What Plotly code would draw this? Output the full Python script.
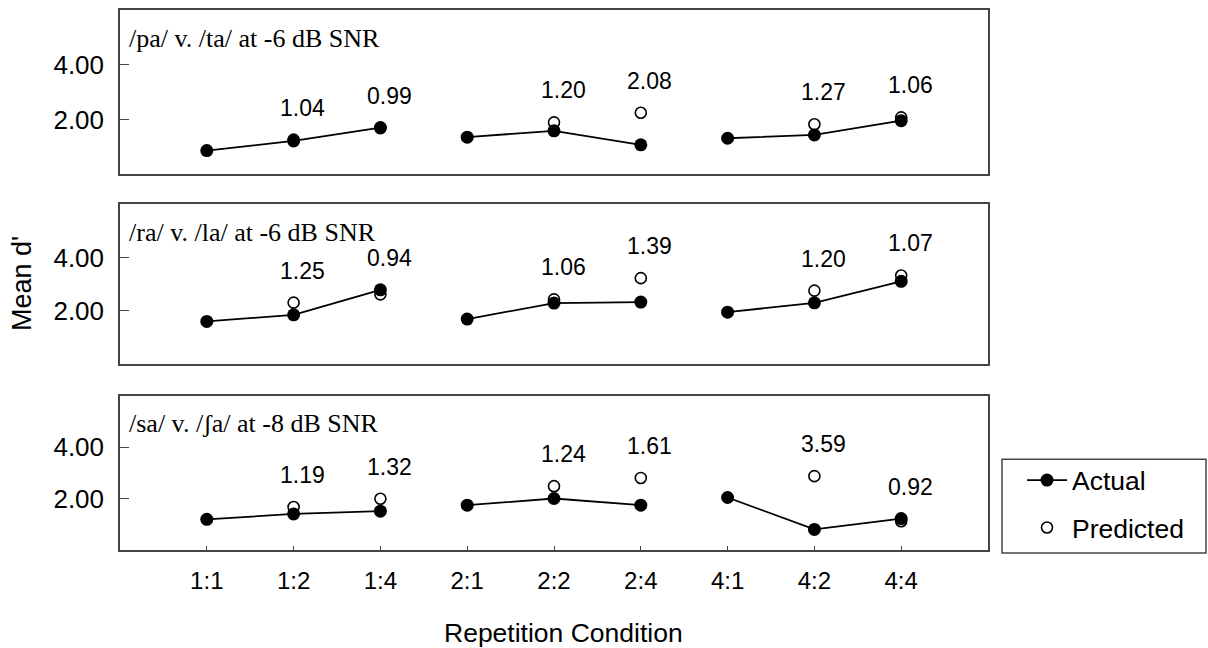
import plotly.graph_objects as go

# Repetition conditions on the shared x axis
conditions = ["1:1", "1:2", "1:4", "2:1", "2:2", "2:4", "4:1", "4:2", "4:4"]

panel_titles = [
    "/pa/ v. /ta/ at -6 dB SNR",
    "/ra/ v. /la/ at -6 dB SNR",
    "/sa/ v. /ʃa/ at -8 dB SNR",
]

# Mean d' per condition (actual) and the predicted values (none for x:1)
actual_pa_ta = [0.87, 1.22, 1.71, 1.36, 1.59, 1.08, 1.32, 1.44, 1.96]
predicted_pa_ta = [None, 1.27, 1.69, None, 1.90, 2.25, None, 1.83, 2.08]
ratio_pa_ta = [None, "1.04", "0.99", None, "1.20", "2.08", None, "1.27", "1.06"]

actual_ra_la = [1.59, 1.84, 2.78, 1.68, 2.28, 2.32, 1.94, 2.29, 3.10]
predicted_ra_la = [None, 2.30, 2.61, None, 2.42, 3.22, None, 2.75, 3.32]
ratio_ra_la = [None, "1.25", "0.94", None, "1.06", "1.39", None, "1.20", "1.07"]

actual_sa_sha = [1.19, 1.40, 1.51, 1.74, 2.00, 1.74, 2.04, 0.80, 1.22]
predicted_sa_sha = [None, 1.67, 1.99, None, 2.48, 2.80, None, 2.87, 1.12]
ratio_sa_sha = [None, "1.19", "1.32", None, "1.24", "1.61", None, "3.59", "0.92"]

y_ticks = [2, 4]

panels = [
    (actual_pa_ta, predicted_pa_ta, ratio_pa_ta),
    (actual_ra_la, predicted_ra_la, ratio_ra_la),
    (actual_sa_sha, predicted_sa_sha, ratio_sa_sha),
]

W, H = 1208, 648
ML, MR, MT, MB = 120, 220, 8, 98
plot_w = W - ML - MR
plot_h = H - MT - MB
# vertical pixel extents of each panel box (top, bottom)
panel_px = [(8, 173), (203, 363), (395, 550)]


def to_paper_y(ypx):
    return (H - MB - ypx) / plot_h


def to_paper_x(xpx):
    return (xpx - ML) / plot_w


SANS = "Liberation Sans, Arial, sans-serif"
SERIF = "Liberation Serif, Times New Roman, serif"
AXIS_COLOR = "#444444"

fig = go.Figure()
xs = list(range(len(conditions)))

for i, (act, pred, ratio) in enumerate(panels):
    n = i + 1
    xa = "x" if n == 1 else f"x{n}"
    ya = "y" if n == 1 else f"y{n}"

    # the actual series is joined only within each group of three
    line_x, line_y = [], []
    for k, (x, v) in enumerate(zip(xs, act)):
        if k > 0 and k % 3 == 0:
            line_x.append(None)
            line_y.append(None)
        line_x.append(x)
        line_y.append(v)

    fig.add_trace(go.Scatter(
        x=xs, y=pred, mode="markers", name="Predicted",
        marker=dict(symbol="circle", size=11, color="white",
                    line=dict(color="black", width=1.6)),
        xaxis=xa, yaxis=ya, showlegend=(n == 3), legendrank=2,
        legendgroup="predicted", cliponaxis=False,
    ))
    fig.add_trace(go.Scatter(
        x=line_x, y=line_y, mode="lines+markers", name="Actual",
        line=dict(color="black", width=1.8),
        marker=dict(symbol="circle", size=13, color="black"),
        xaxis=xa, yaxis=ya, showlegend=(n == 3), legendrank=1,
        legendgroup="actual", connectgaps=False, cliponaxis=False,
    ))

    # ratio labels above the higher of the two markers
    for x, a, p, r in zip(xs, act, pred, ratio):
        if r is None:
            continue
        top = max(a, p if p is not None else a)
        fig.add_annotation(
            x=x, y=top, xref=xa, yref=ya, text=r, showarrow=False,
            yanchor="middle", yshift=32, xshift=9,
            font=dict(family=SANS, size=23, color="black"),
        )

    # panel title, top-left inside the box
    fig.add_annotation(
        x=0, y=1, xref=f"{xa} domain", yref=f"{ya} domain",
        text=panel_titles[i], showarrow=False,
        xanchor="left", yanchor="middle", xshift=7, yshift=-28,
        font=dict(family=SERIF, size=26, color="black"),
    )

    top_px, bot_px = panel_px[i]
    xkey = "xaxis" if n == 1 else f"xaxis{n}"
    ykey = "yaxis" if n == 1 else f"yaxis{n}"
    fig.layout[xkey] = dict(
        domain=[0, 1], range=[-1, 9], anchor=ya,
        tickmode="array", tickvals=xs,
        ticktext=conditions if n == 3 else [""] * len(xs),
        showticklabels=(n == 3),
        ticks="inside" if n == 3 else "", ticklen=4, tickwidth=1,
        tickcolor=AXIS_COLOR,
        showline=True, linecolor=AXIS_COLOR, linewidth=1.5, mirror=True,
        showgrid=False, zeroline=False,
        ticklabelstandoff=8,
        tickfont=dict(family=SANS, size=24, color="black"),
    )
    fig.layout[ykey] = dict(
        domain=[to_paper_y(bot_px), to_paper_y(top_px)], range=[0, 6],
        anchor=xa,
        tickmode="array", tickvals=y_ticks,
        ticktext=[f"{v:.2f}" for v in y_ticks],
        ticks="inside", ticklen=9, tickwidth=1, tickcolor=AXIS_COLOR,
        showline=True, linecolor=AXIS_COLOR, linewidth=1.5, mirror=True,
        showgrid=False, zeroline=False,
        ticklabelstandoff=9,
        tickfont=dict(family=SANS, size=26, color="black"),
    )

# axis titles
fig.add_annotation(
    x=to_paper_x(22), y=to_paper_y(283), xref="paper", yref="paper",
    text="Mean d'", textangle=-90, showarrow=False,
    xanchor="center", yanchor="middle",
    font=dict(family=SANS, size=27, color="black"),
)
fig.add_annotation(
    x=to_paper_x(563), y=to_paper_y(633), xref="paper", yref="paper",
    text="Repetition Condition", showarrow=False,
    xanchor="center", yanchor="middle",
    font=dict(family=SANS, size=26.5, color="black"),
)

# frame around the legend entries
fig.add_shape(
    type="rect", xref="paper", yref="paper",
    x0=to_paper_x(1002), x1=to_paper_x(1206),
    y0=to_paper_y(553), y1=to_paper_y(459),
    line=dict(color=AXIS_COLOR, width=1.5), fillcolor="rgba(0,0,0,0)",
    layer="above",
)

fig.update_layout(
    width=W, height=H,
    margin=dict(l=ML, r=MR, t=MT, b=MB),
    paper_bgcolor="white", plot_bgcolor="white",
    legend=dict(
        x=to_paper_x(1002), y=to_paper_y(456),
        xanchor="left", yanchor="top",
        borderwidth=0, bgcolor="rgba(0,0,0,0)",
        font=dict(family=SANS, size=26.5, color="black"),
        itemwidth=40, tracegroupgap=10, indentation=20,
    ),
)

fig.write_html("out.html")
